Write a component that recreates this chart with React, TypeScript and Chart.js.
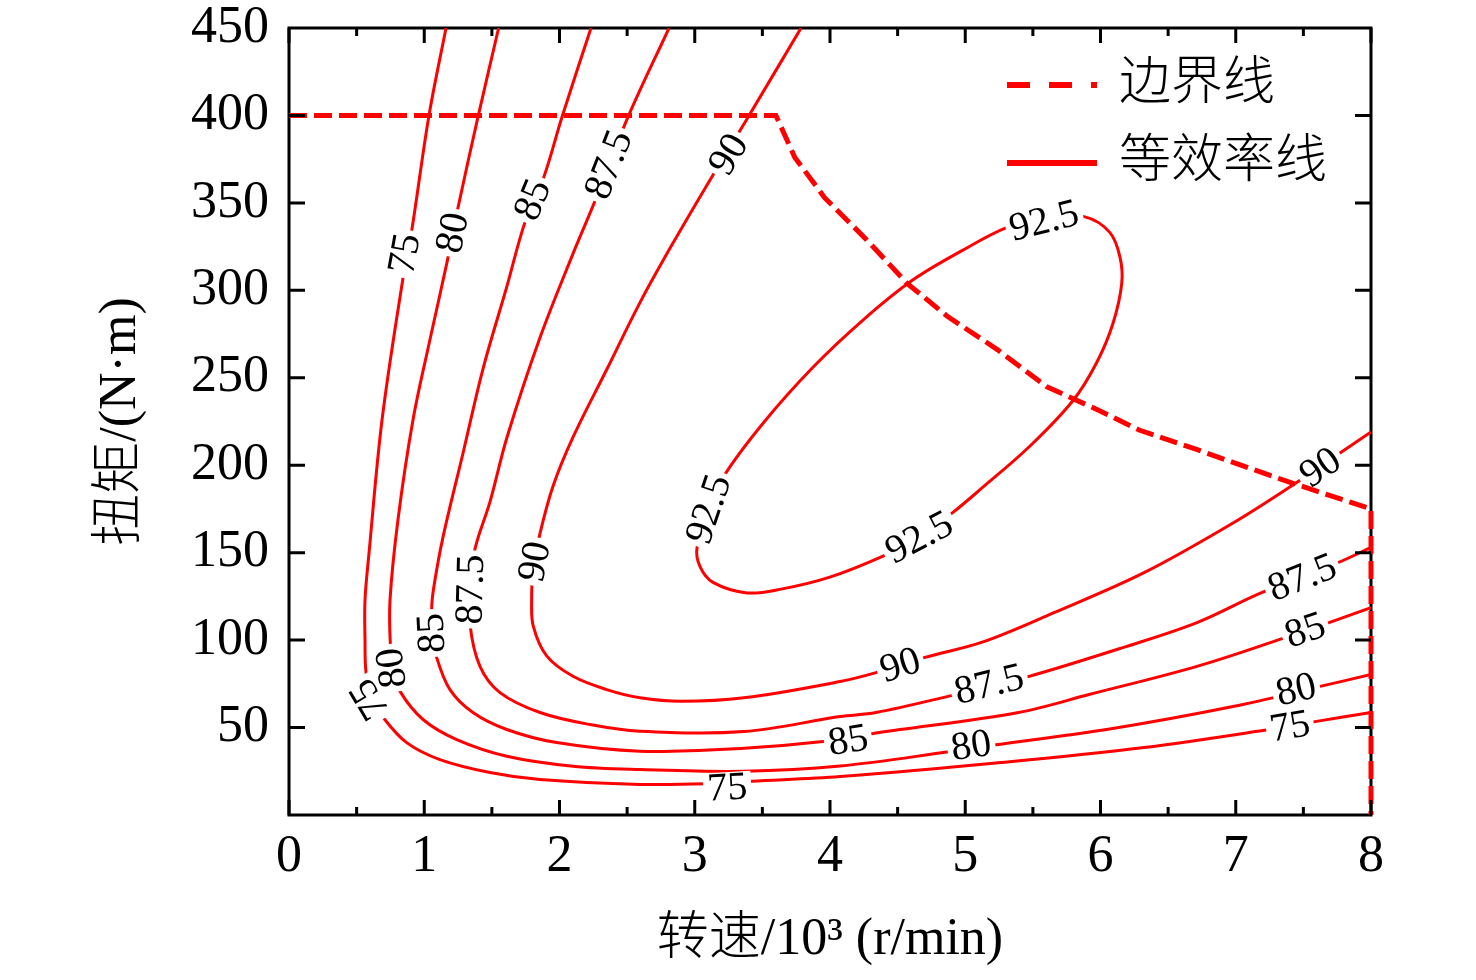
import React, { useEffect, useRef } from "react";
import { Chart, registerables } from "chart.js";

Chart.register(...registerables);

// ---------------- data ----------------
const X_MIN = 0;
const X_MAX = 8;
const X_STEP = 1;
const Y_MIN = 0;
const Y_MAX = 450;
const Y_STEP = 50;

const X_TITLE = "转速/10³ (r/min)";
const Y_TITLE = "扭矩/(N·m)";
const SERIES_NAMES = ["边界线", "等效率线"];

const LEVELS = ["75", "80", "85", "87.5", "90", "92.5"];

// iso-efficiency contour lines: [speed (10^3 r/min), torque (N·m)]
const eff75: [number, number][] = [
  [1.161, 450], [1.035, 400], [0.909, 335], [0.843, 307], [0.688, 226], [0.592, 150],
  [0.562, 123], [0.562, 100], [0.569, 82], [0.61, 67], [0.697, 55.7], [0.87, 41.4],
  [1.116, 31.7], [1.486, 24.3], [1.856, 20.3], [2.595, 17.5], [3.08, 17.8], [3.42, 19.3],
  [4.074, 22], [5.264, 30], [6.322, 38.6], [7.246, 48.9], [7.586, 53.4], [8.0, 58.6],
];
const eff80: [number, number][] = [
  [1.55, 450], [1.397, 399], [1.246, 346], [1.168, 316], [1.04, 271], [0.917, 226],
  [0.806, 169], [0.747, 123], [0.75, 97], [0.775, 82], [0.821, 70.7], [0.991, 54.6],
  [1.24, 43.1], [1.61, 33.6], [2.1, 27.9], [2.595, 26], [3.364, 25], [4.074, 28],
  [4.865, 36], [5.213, 40], [6.056, 49], [6.98, 62], [7.616, 73.4], [8.0, 80.3],
];
const eff85: [number, number][] = [
  [2.233, 450], [2.018, 399], [1.885, 365], [1.745, 339], [1.61, 302], [1.434, 255],
  [1.287, 207], [1.139, 159], [1.07, 130], [1.055, 118], [1.065, 103], [1.092, 90],
  [1.19, 71.7], [1.36, 58.6], [1.61, 48.9], [1.979, 41.4], [2.595, 36.5], [3.364, 38.2],
  [3.948, 42], [4.351, 47], [5.394, 58.6], [5.922, 69], [6.713, 85], [7.349, 101],
  [7.69, 110], [8.0, 118.6],
];
const eff875: [number, number][] = [
  [2.81, 450], [2.506, 399], [2.262, 351], [2.1, 321], [1.856, 273], [1.612, 216],
  [1.486, 179], [1.375, 152], [1.345, 130], [1.338, 109], [1.412, 85], [1.56, 70],
  [1.856, 58.6], [2.226, 51.7], [2.595, 47.9], [3.364, 47.7], [4.074, 56.3], [4.34, 58.6],
  [4.865, 67.7], [5.46, 79], [6.189, 96.3], [6.713, 110], [7.187, 127], [7.756, 144.3],
  [8.0, 153],
];
const eff90: [number, number][] = [
  [3.786, 450], [3.394, 399], [3.135, 366], [2.839, 327], [2.595, 293], [2.351, 255],
  [2.1, 216], [1.952, 188], [1.856, 161], [1.805, 140], [1.794, 123], [1.806, 108],
  [1.905, 91], [2.1, 79.3], [2.349, 71.7], [2.595, 67], [2.9, 65], [3.364, 67],
  [4.074, 76.3], [4.34, 81.4], [4.695, 90], [5.131, 99], [5.656, 115.7], [6.322, 138.6],
  [6.98, 167], [7.428, 189], [7.771, 207], [8.0, 219],
];
const eff925: [number, number][] = [
  [5.59, 341.5], [5.885, 342], [6.07, 333], [6.144, 319], [6.157, 304], [6.092, 281],
  [5.974, 259], [5.797, 237], [5.479, 211], [5.109, 186], [4.909, 173], [4.665, 159],
  [4.392, 148], [3.999, 136], [3.63, 129], [3.386, 127], [3.135, 133], [3.039, 142],
  [3.017, 153], [3.113, 175], [3.209, 193], [3.505, 224], [3.874, 256], [4.244, 283],
  [4.614, 306], [4.983, 323], [5.309, 336], [5.59, 341.5],
];
const EFF_LINES = [eff75, eff80, eff85, eff875, eff90, eff925];

// where each contour carries its value label
const lab75: [number, number][] = [[0.85, 321], [0.59, 66], [3.24, 16], [7.40, 51]];
const lab80: [number, number][] = [[1.205, 333], [0.754, 84], [5.043, 40], [7.445, 72]];
const lab85: [number, number][] = [[1.797, 352], [1.05, 104], [4.133, 43], [7.512, 106]];
const lab875: [number, number][] = [[2.359, 372], [1.338, 129], [5.176, 75], [7.49, 136]];
const lab90: [number, number][] = [[3.246, 378], [1.811, 145], [4.518, 86], [7.623, 199]];
const lab925: [number, number][] = [[5.582, 340], [3.098, 175], [4.658, 159]];
const LABEL_POS = [lab75, lab80, lab85, lab875, lab90, lab925];

// operating boundary (peak torque / constant power)
const boundary: [number, number][] = [
  [0, 400], [3.6, 400], [3.74, 376], [3.96, 353], [4.27, 329], [4.57, 304],
  [4.87, 285], [5.24, 266], [5.6, 245], [5.97, 232], [6.29, 220], [6.71, 209],
  [7.37, 191], [8.0, 175], [8.0, 0],
];

// ---------------- style ----------------
const RED = "#ff0000";
const LATIN = '"Liberation Serif", "Times New Roman", serif';
const MIXED = '"Liberation Serif", "Noto Sans CJK SC", serif';

const toXY = (a: [number, number][]) => a.map(([x, y]) => ({ x, y }));

function labelAngle(chart: any, pts: [number, number][], lx: number, ly: number) {
  const xs = chart.scales.x;
  const ys = chart.scales.y;
  const P = xs.getPixelForValue(lx);
  const Q = ys.getPixelForValue(ly);
  let best = Infinity;
  let ang = 0;
  for (let i = 0; i < pts.length - 1; i++) {
    const ax = xs.getPixelForValue(pts[i][0]);
    const ay = ys.getPixelForValue(pts[i][1]);
    const bx = xs.getPixelForValue(pts[i + 1][0]);
    const by = ys.getPixelForValue(pts[i + 1][1]);
    const dx = bx - ax;
    const dy = by - ay;
    const L2 = dx * dx + dy * dy || 1;
    let t = ((P - ax) * dx + (Q - ay) * dy) / L2;
    t = Math.max(0, Math.min(1, t));
    const cx = ax + t * dx;
    const cy = ay + t * dy;
    const d = (P - cx) * (P - cx) + (Q - cy) * (Q - cy);
    if (d < best) {
      best = d;
      ang = Math.atan2(dy, dx);
    }
  }
  let deg = (ang * 180) / Math.PI;
  if (deg > 45) deg -= 180;
  if (deg <= -135) deg += 180;
  return (deg * Math.PI) / 180;
}

const framePlugin = {
  id: "frame",
  beforeDatasetsDraw(chart: any) {
    const { ctx, chartArea: a } = chart;
    ctx.save();
    ctx.strokeStyle = "#000";
    ctx.lineWidth = 3;
    ctx.strokeRect(a.left, a.top, a.right - a.left, a.bottom - a.top);
    ctx.restore();
  },
  afterDatasetsDraw(chart: any) {
    const { ctx, chartArea: a, scales } = chart;
    const xs = scales.x;
    const ys = scales.y;
    ctx.save();
    ctx.strokeStyle = "#000";
    ctx.lineWidth = 3;
    ctx.beginPath();
    for (let v = X_MIN; v <= X_MAX + 1e-9; v += X_STEP / 2) {
      const p = xs.getPixelForValue(v);
      const major = Math.abs(v - Math.round(v)) < 1e-6;
      const len = major ? 15 : 8;
      ctx.moveTo(p, a.bottom);
      ctx.lineTo(p, a.bottom - len);
      ctx.moveTo(p, a.top);
      ctx.lineTo(p, a.top + len);
    }
    for (let v = Y_MIN + Y_STEP; v < Y_MAX; v += Y_STEP) {
      const p = ys.getPixelForValue(v);
      ctx.moveTo(a.left, p);
      ctx.lineTo(a.left + 16, p);
      ctx.moveTo(a.right, p);
      ctx.lineTo(a.right - 16, p);
    }
    ctx.stroke();
    ctx.restore();
  },
};

const contourLabelPlugin = {
  id: "contourLabels",
  beforeDatasetDraw(chart: any, args: any) {
    if (args.index !== 0) return;
    const { ctx, scales } = chart;
    ctx.save();
    ctx.font = `40px ${LATIN}`;
    ctx.textAlign = "center";
    ctx.textBaseline = "middle";
    LABEL_POS.forEach((list, li) => {
      const text = LEVELS[li];
      list.forEach(([lx, ly]) => {
        const px = scales.x.getPixelForValue(lx);
        const py = scales.y.getPixelForValue(ly);
        const rot = labelAngle(chart, EFF_LINES[li], lx, ly);
        const w = ctx.measureText(text).width + 8;
        ctx.save();
        ctx.translate(px, py);
        ctx.rotate(rot);
        ctx.fillStyle = "#fff";
        ctx.fillRect(-w / 2, -15, w, 30);
        ctx.fillStyle = "#000";
        ctx.fillText(text, 0, 2);
        ctx.restore();
      });
    });
    ctx.restore();
  },
};

const legendPlugin = {
  id: "innerLegend",
  afterDraw(chart: any) {
    const { ctx, chartArea: a } = chart;
    const x0 = a.right - 364;
    const x1 = a.right - 274;
    const tx = a.right - 252;
    const rows = [a.top + 57, a.top + 135];
    ctx.save();
    ctx.strokeStyle = RED;
    ctx.lineWidth = 6;
    ctx.lineCap = "butt";
    rows.forEach((y, i) => {
      ctx.setLineDash(i === 0 ? [23, 19] : []);
      ctx.beginPath();
      ctx.moveTo(x0, y);
      ctx.lineTo(x1, y);
      ctx.stroke();
    });
    ctx.setLineDash([]);
    ctx.fillStyle = "#000";
    ctx.font = `300 52px ${MIXED}`;
    ctx.textAlign = "left";
    ctx.textBaseline = "middle";
    rows.forEach((y, i) => ctx.fillText(SERIES_NAMES[i], tx, y));
    ctx.restore();
  },
};

export default function App() {
  const ref = useRef<HTMLCanvasElement | null>(null);

  useEffect(() => {
    if (!ref.current) return;
    const datasets: any[] = [
      {
        label: SERIES_NAMES[0],
        data: toXY(boundary),
        borderColor: RED,
        borderWidth: 5,
        borderDash: [18, 7],
        borderCapStyle: "butt",
        pointRadius: 0,
        tension: 0,
        clip: 8,
      },
      ...EFF_LINES.map((pts, i) => ({
        label: `${SERIES_NAMES[1]} ${LEVELS[i]}`,
        data: toXY(pts),
        borderColor: RED,
        borderWidth: 3,
        pointRadius: 0,
        tension: 0.35,
      })),
    ];

    const chart = new Chart(ref.current, {
      type: "line",
      data: { datasets },
      plugins: [framePlugin, contourLabelPlugin, legendPlugin],
      options: {
        responsive: false,
        animation: false,
        events: [],
        layout: { padding: { left: 0, right: 105, top: 28, bottom: 0 } },
        plugins: { legend: { display: false }, tooltip: { enabled: false } },
        scales: {
          x: {
            type: "linear",
            min: X_MIN,
            max: X_MAX,
            grid: { display: false, drawTicks: false },
            border: { display: false },
            ticks: {
              stepSize: X_STEP,
              padding: 11,
              color: "#000",
              font: { family: LATIN, size: 52 },
              maxRotation: 0,
            },
            title: {
              display: true,
              text: X_TITLE,
              color: "#000",
              font: { family: MIXED, size: 52, weight: "300" },
              padding: { top: 0, bottom: 8 },
            },
            afterFit: (s: any) => {
              s.height = 165;
              s.paddingLeft = 0;
              s.paddingRight = 0;
            },
          },
          y: {
            type: "linear",
            min: Y_MIN,
            max: Y_MAX,
            grid: { display: false, drawTicks: false },
            border: { display: false },
            ticks: {
              stepSize: Y_STEP,
              padding: 20,
              color: "#000",
              font: { family: LATIN, size: 52 },
              callback: (v: any) => (v === 0 ? "" : String(v)),
            },
            title: {
              display: true,
              text: Y_TITLE,
              color: "#000",
              font: { family: MIXED, size: 52, weight: "300" },
              padding: { top: 90, bottom: 0 },
            },
            afterFit: (s: any) => {
              s.width = 289;
              s.paddingTop = 0;
              s.paddingBottom = 0;
            },
          },
        },
      } as any,
    });
    return () => chart.destroy();
  }, []);

  return (
    <div style={{ position: "absolute", left: 0, top: 0, width: 1476, height: 980, background: "#fff" }}>
      <canvas ref={ref} width={1476} height={980} style={{ display: "block" }} />
    </div>
  );
}
